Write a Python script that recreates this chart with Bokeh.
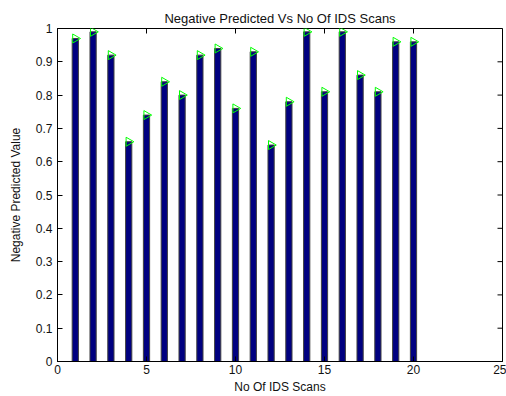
import math
from bokeh.plotting import figure
from bokeh.models import ColumnDataSource, FixedTicker, Range1d
from bokeh.embed import file_html
from bokeh.resources import INLINE

scans = list(range(1, 21))
npv = [0.97, 0.99, 0.92, 0.66, 0.74, 0.84, 0.80, 0.92, 0.94, 0.76,
       0.93, 0.65, 0.78, 0.99, 0.81, 0.99, 0.86, 0.81, 0.96, 0.96]
x_ticks = [0, 5, 10, 15, 20, 25]
y_ticks = [0, 0.1, 0.2, 0.3, 0.4, 0.5, 0.6, 0.7, 0.8, 0.9, 1]
y_tick_labels = ["0", "0.1", "0.2", "0.3", "0.4", "0.5", "0.6", "0.7", "0.8", "0.9", "1"]
x_lim = (0, 25)
y_lim = (0, 1)

FONT = "Liberation Sans"

src = ColumnDataSource(dict(x=scans, v=npv))

p = figure(width=506, height=396, output_backend="svg", toolbar_location=None,
           x_range=Range1d(*x_lim), y_range=Range1d(*y_lim),
           min_border_left=57, min_border_right=4, min_border_top=28, min_border_bottom=34,
           title="Negative Predicted Vs No Of IDS Scans")
p.title.align = "center"
p.title.text_font = FONT
p.title.text_font_size = "13px"
p.title.text_font_style = "normal"
p.title.text_color = "#111111"
p.title.offset = 0
p.title.standoff = 5

p.xgrid.visible = False
p.ygrid.visible = False
p.outline_line_color = "black"
p.outline_line_width = 1
p.background_fill_color = "white"
p.border_fill_color = "white"

p.vbar(x="x", top="v", width=0.35, source=src, fill_color="#000080",
       line_color="#404040", line_width=1)
p.scatter(x="x", y="v", source=src, marker="triangle", angle=-math.pi / 2,
          size=9, fill_color=None, line_color="#00FF00", line_width=1)

# inward ticks on the top and right edges of the box
p.ray(x=x_ticks, y=[y_lim[1]] * len(x_ticks), length=5, length_units="screen",
      angle=-math.pi / 2, line_color="black", line_width=1)
p.ray(x=[x_lim[1]] * len(y_ticks), y=y_ticks, length=5, length_units="screen",
      angle=math.pi, line_color="black", line_width=1)

def style_axis(ax):
    ax.major_tick_in = 5
    ax.major_tick_out = 0
    ax.minor_tick_line_color = None
    ax.axis_line_color = "black"
    ax.major_tick_line_color = "black"
    ax.major_label_text_font = FONT
    ax.major_label_text_font_size = "12px"
    ax.major_label_text_color = "#111111"
    ax.axis_label_text_font = FONT
    ax.axis_label_text_font_size = "12px"
    ax.axis_label_text_font_style = "normal"
    ax.axis_label_text_color = "#111111"

xa = p.xaxis[0]
xa.ticker = FixedTicker(ticks=x_ticks)
xa.axis_label = "No Of IDS Scans"
style_axis(xa)
xa.major_label_standoff = 3
xa.axis_label_standoff = 3

ya = p.yaxis[0]
ya.ticker = FixedTicker(ticks=y_ticks)
ya.major_label_overrides = {t: l for t, l in zip(y_ticks, y_tick_labels)}
ya.axis_label = "Negative Predicted Value"
style_axis(ya)
ya.major_label_standoff = 5
ya.axis_label_standoff = 10

open("out.html", "w").write(file_html(p, INLINE))
